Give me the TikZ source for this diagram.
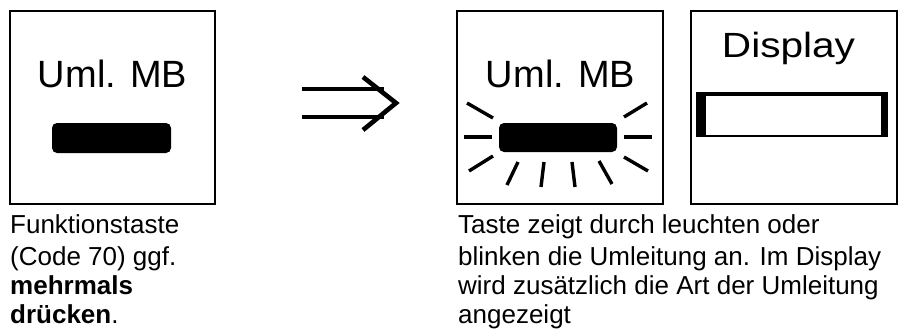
\documentclass[tikz,border=0pt]{standalone}
\usepackage{fontspec}
\setmainfont{Liberation Sans}
\begin{document}
\begin{tikzpicture}[x=1pt,y=-1pt,
  panel/.style={draw=black,line width=2.6pt},
  keybar/.style={fill=black,rounded corners=5pt},
  ray/.style={line width=3.4pt},
  bigtext/.style={inner sep=0pt,font=\fontsize{38}{40}\selectfont},
  captext/.style={inner sep=0pt,anchor=base west,font=\fontsize{26}{30}\selectfont},
  arrowline/.style={line width=4.6pt}]
\useasboundingbox (0,0) rectangle (898,330);
% left panel
\draw[panel] (10,11) rectangle (215,204);
\node[bigtext,anchor=base] (uml1) at (112.5,87.5) {Uml. MB};
\fill[keybar] (52,123) rectangle (171,153);
% arrow
\coordinate (a1) at (302,89);
\coordinate (a1e) at (384,89);
\coordinate (a2) at (302,117);
\coordinate (a2e) at (384,117);
\coordinate (tip) at (396,103);
\coordinate (h1) at (363,77);
\coordinate (h2) at (363,130);
\draw[arrowline] (a1) -- (a1e);
\draw[arrowline] (a2) -- (a2e);
\draw[arrowline,line join=miter] (h1) -- (tip) -- (h2);
% middle panel
\draw[panel] (457,11) rectangle (663,204);
\node[bigtext,anchor=base] (uml2) at (560.5,87) {Uml. MB};
\fill[keybar] (499,123) rectangle (617,152);
\draw[ray] (464,137) -- (492,137);
\draw[ray] (624,137) -- (652,137);
\draw[ray] (467,103) -- (493,118);
\draw[ray] (624,117) -- (647,103);
\draw[ray] (469,171) -- (493,156);
\draw[ray] (624,157) -- (648,171);
\draw[ray] (518,162) -- (507,185);
\draw[ray] (544,162) -- (541,187);
\draw[ray] (572,162) -- (575,187);
\draw[ray] (599,161) -- (612,184);
% right panel
\draw[panel] (691,11) rectangle (897,204);
\node[inner sep=0pt,anchor=base,font=\fontsize{35}{38}\selectfont,xscale=1.16] (disp) at (788.5,57) {Display};
\fill[black] (696,92) rectangle (888,137);
\fill[white] (706,95.5) rectangle (881,134.5);
% captions
\node[captext] (c1) at (10,233) {Funktionstaste};
\node[captext] (c2) at (10,265) {(Code 70) ggf.};
\node[captext] (c3) at (10,294) {\bfseries mehrmals};
\node[captext] (c4) at (10,323) {\bfseries drücken\mdseries.};
\node[captext] (d1) at (458,233) {Taste zeigt durch leuchten oder};
\node[captext] (d2) at (458,265) {blinken die Umleitung an. Im Display};
\node[captext] (d3) at (458,294) {wird zusätzlich die Art der Umleitung};
\node[captext] (d4) at (458,323) {angezeigt};
\end{tikzpicture}
\end{document}
